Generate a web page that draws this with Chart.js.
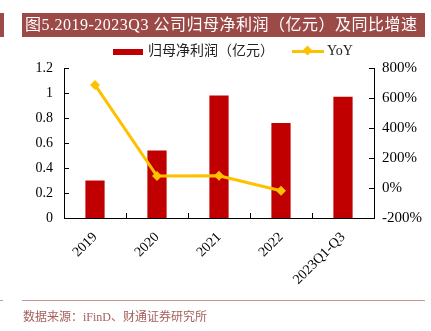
<!DOCTYPE html>
<html>
<head>
<meta charset="utf-8">
<script src="https://cdn.jsdelivr.net/npm/chart.js@4/dist/chart.umd.min.js"></script>
<style>
  body { margin: 0; background: #fff; }
  #wrap { position: relative; width: 431px; height: 331px; overflow: hidden; font-family: "Liberation Serif", "Noto Sans CJK SC", serif; }
  #chart { position: absolute; left: 0; top: 0; }
  .title { position: absolute; top: 13px; height: 24px; background: #9c4a47; color: #fff; font-size: 16px; line-height: 24px; letter-spacing: 0.5px; white-space: nowrap; }
  .legend { position: absolute; top: 42px; font-size: 14px; line-height: 18px; color: #222; white-space: nowrap; }
  .rule { position: absolute; top: 300px; height: 1px; background: #c99592; }
  .source { position: absolute; left: 23px; top: 307px; font-size: 12px; color: #a4605c; white-space: nowrap; }
</style>
</head>
<body>
<div id="wrap">
  <canvas id="chart" width="431" height="331"></canvas>
  <div class="title" style="left:0;width:4px;"></div>
  <div class="title" style="left:22px;width:403px;padding-left:3px;box-sizing:border-box;">图5.2019-2023Q3 公司归母净利润（亿元）及同比增速</div>
  <div class="legend" style="left:113px;">
    <span style="display:inline-block;width:30px;height:6px;background:#c00000;vertical-align:middle;margin-right:5px;"></span>归母净利润（亿元）
  </div>
  <div class="legend" style="left:292px;">
    <span style="position:relative;display:inline-block;width:32px;height:3px;background:#ffc000;vertical-align:middle;margin-right:3px;">
      <span style="position:absolute;left:12px;top:-3px;width:7px;height:7px;background:#ffc000;transform:rotate(45deg);"></span>
    </span>YoY
  </div>
  <div class="rule" style="left:0;width:3px;"></div>
  <div class="rule" style="left:22px;width:403px;"></div>
  <div class="source">数据来源：iFinD、财通证券研究所</div>
</div>
<script>
const categories = ['2019', '2020', '2021', '2022', '2023Q1-Q3'];
const netProfit = [0.30, 0.54, 0.98, 0.76, 0.97];
const yoy = [687, 80, 82, -18, null];
const leftTicks = [0, 0.2, 0.4, 0.6, 0.8, 1, 1.2];
const rightTicks = [-200, 0, 200, 400, 600, 800];

// tick marks drawn inward, like the source chart
const innerTicks = {
  id: 'innerTicks',
  afterDraw(chart) {
    const ctx = chart.ctx;
    const area = chart.chartArea;
    const yL = chart.scales.y;
    const yR = chart.scales.y1;
    const n = categories.length;
    ctx.save();
    ctx.strokeStyle = '#000';
    ctx.lineWidth = 1;
    ctx.beginPath();
    leftTicks.forEach(v => {
      const y = Math.round(yL.getPixelForValue(v)) + 0.5;
      ctx.moveTo(area.left, y);
      ctx.lineTo(area.left + 5, y);
    });
    rightTicks.forEach(v => {
      const y = Math.round(yR.getPixelForValue(v)) + 0.5;
      ctx.moveTo(area.right, y);
      ctx.lineTo(area.right - 5, y);
    });
    for (let i = 1; i < n; i++) {
      const x = Math.round(area.left + (area.right - area.left) * i / n) + 0.5;
      ctx.moveTo(x, area.bottom);
      ctx.lineTo(x, area.bottom - 5);
    }
    ctx.stroke();
    ctx.restore();
  }
};

new Chart(document.getElementById('chart'), {
  data: {
    labels: categories,
    datasets: [
      {
        type: 'line',
        label: 'YoY',
        data: yoy,
        yAxisID: 'y1',
        borderColor: '#ffc000',
        backgroundColor: '#ffc000',
        borderWidth: 3,
        pointStyle: 'rectRot',
        pointRadius: 5,
        pointBorderWidth: 0,
        tension: 0,
        order: 0
      },
      {
        type: 'bar',
        label: '归母净利润（亿元）',
        data: netProfit,
        yAxisID: 'y',
        backgroundColor: '#c00000',
        barPercentage: 0.31,
        categoryPercentage: 1,
        order: 1
      }
    ]
  },
  options: {
    responsive: false,
    animation: false,
    layout: { padding: { top: 68, left: 0, right: 0, bottom: 0 } },
    plugins: {
      legend: { display: false },
      tooltip: { enabled: false }
    },
    scales: {
      x: {
        afterFit(scale) { scale.height = 113; },
        grid: { display: false, drawTicks: false },
        border: { display: true, color: '#000', width: 1 },
        ticks: {
          color: '#000',
          font: { family: 'Liberation Serif', size: 14 },
          minRotation: 45,
          maxRotation: 45,
          padding: 11
        }
      },
      y: {
        position: 'left',
        min: 0,
        max: 1.2,
        afterFit(scale) { scale.width = 64; },
        afterBuildTicks(scale) { scale.ticks = leftTicks.map(v => ({ value: v })); },
        grid: { display: false, drawTicks: false },
        border: { display: true, color: '#000', width: 1 },
        ticks: {
          color: '#000',
          font: { family: 'Liberation Serif', size: 14 },
          padding: 11,
          callback: v => String(Number(v.toFixed(1)))
        }
      },
      y1: {
        position: 'right',
        min: -200,
        max: 800,
        afterFit(scale) { scale.width = 57; },
        afterBuildTicks(scale) { scale.ticks = rightTicks.map(v => ({ value: v })); },
        grid: { display: false, drawTicks: false },
        border: { display: true, color: '#000', width: 1 },
        ticks: {
          color: '#000',
          font: { family: 'Liberation Serif', size: 15 },
          padding: 8,
          callback: v => v + '%'
        }
      }
    }
  },
  plugins: [innerTicks]
});
</script>
</body>
</html>
